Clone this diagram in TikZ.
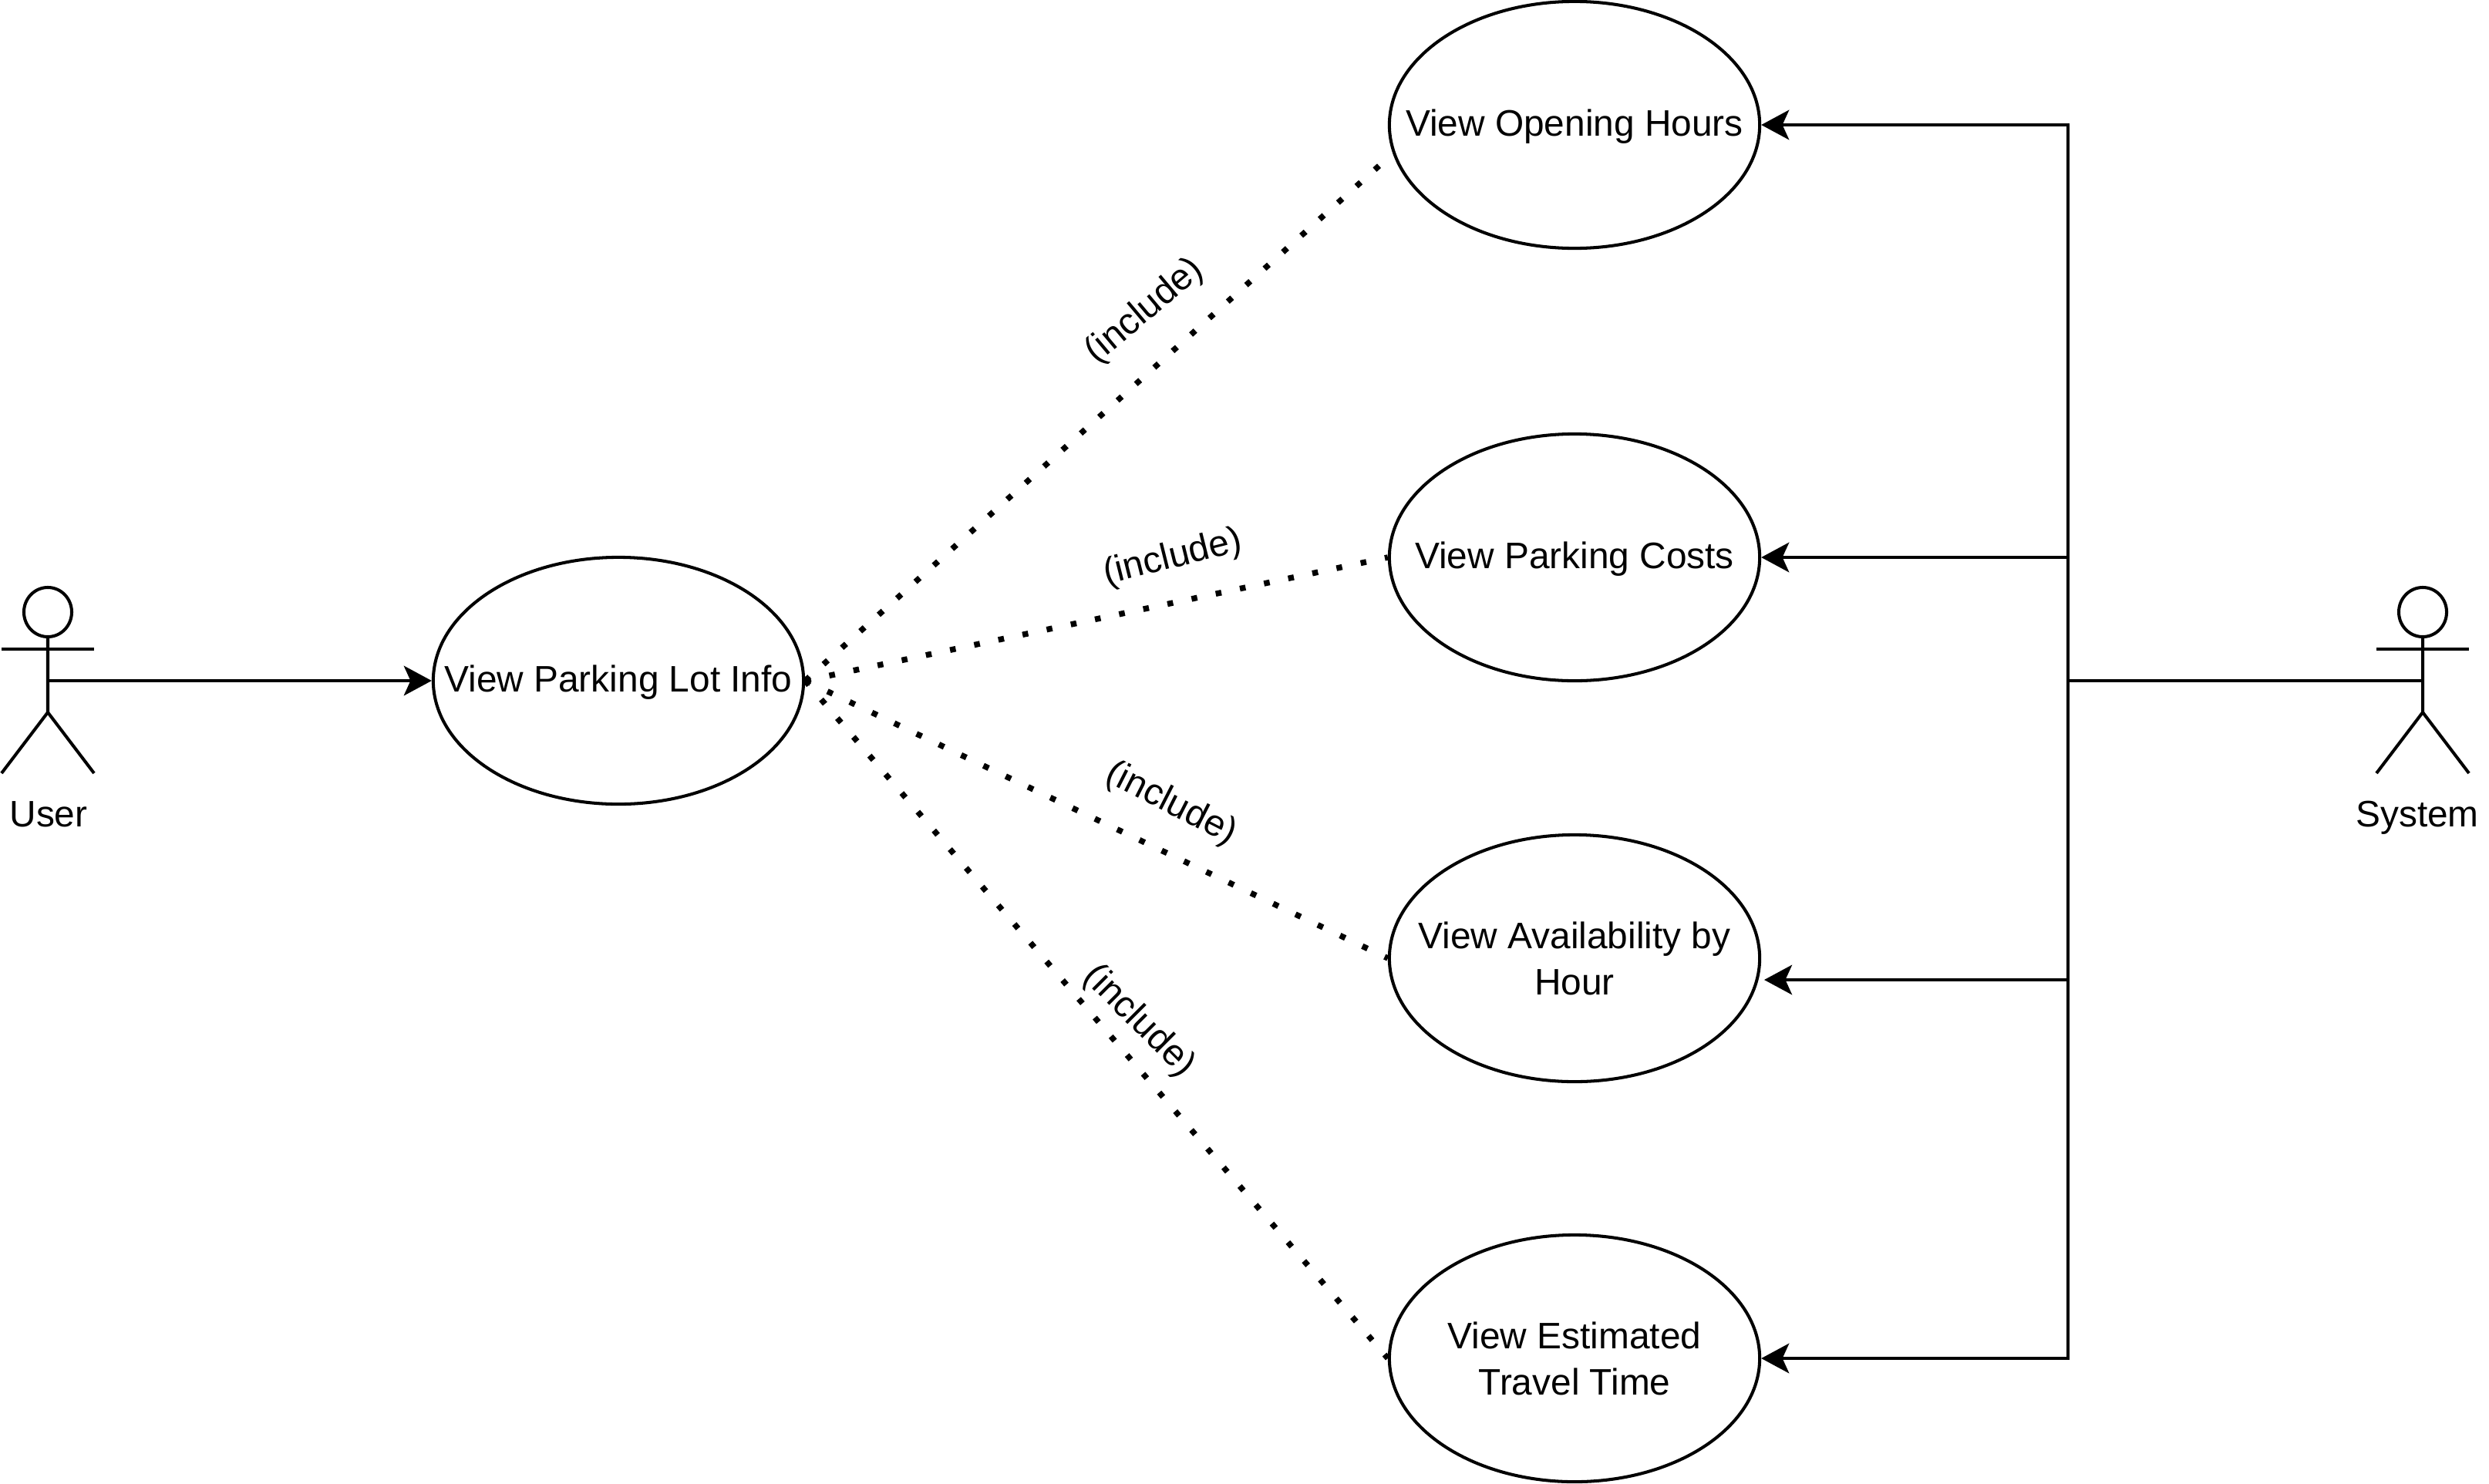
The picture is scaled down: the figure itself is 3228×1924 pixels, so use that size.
\documentclass[tikz,border=0pt]{standalone}
\usepackage{fontspec}
\setmainfont{Liberation Sans}
\usetikzlibrary{arrows.meta,shapes.geometric}
\tikzset{
  usecase/.style={ellipse, draw, line width=1.15pt, minimum width=4.8cm, minimum height=3.2cm, inner xsep=-1.6cm, inner ysep=0pt, align=center},
  oneline/.style={text height=0.38cm, text depth=0.1cm},
  actorhead/.style={ellipse, draw, line width=1.15pt, minimum width=0.62cm, minimum height=0.64cm, inner sep=0pt},
  limb/.style={line width=1.15pt},
  assoc/.style={-{Stealth[length=0.36cm,width=0.385cm,inset=0.086cm]}, line width=1.2pt},
  incl/.style={line width=0.075cm, dash pattern=on 0.075cm off 0.245cm},
  tag/.style={inner sep=0pt}
}
\begin{document}
\begin{tikzpicture}[x=0.01cm, y=-0.01cm, font=\fontsize{13.6pt}{17pt}\selectfont]
\useasboundingbox (0,0) rectangle (3228,1924);
% use cases
\node[usecase, oneline] (Info) at (802,883) {View Parking Lot Info};
\node[usecase, oneline] (Hours) at (2042,162) {View Opening Hours};
\node[usecase, oneline] (Costs) at (2042,723) {View Parking Costs};
\node[usecase] (Avail) at (2042,1243) {View Availability by\\Hour};
\node[usecase] (Travel) at (2042,1762) {View Estimated\\Travel Time};
% actors
\node[actorhead] (UserHead) at (62,794) {};
\coordinate (UserMid) at (62,883);
\draw[limb] (UserHead.south) -- (62,924) -- (2,1003);
\draw[limb] (62,924) -- (122,1003);
\draw[limb] (2,842) -- (122,842);
\node[tag] (UserName) at (63,1056) {User};
\node[actorhead] (SystemHead) at (3142,794) {};
\coordinate (SystemMid) at (3142,883);
\draw[limb] (SystemHead.south) -- (3142,924) -- (3082,1003);
\draw[limb] (3142,924) -- (3202,1003);
\draw[limb] (3082,842) -- (3202,842);
\node[tag] (SystemName) at (3135,1061) {System};
% connectors
\draw[assoc] (UserMid) -- (Info.west);
\coordinate (Bus) at (2682,883);
\coordinate (AvailEnd) at (2288,1271);
\draw[limb] (SystemMid) -- (Bus);
\draw[assoc] (Bus) |- (Hours.east);
\draw[assoc] (Bus) |- (Costs.east);
\draw[assoc] (Bus) |- (AvailEnd);
\draw[assoc] (Bus) |- (Travel.east);
% includes
\coordinate (HoursEnd) at (1802,203);
\draw[incl] (Info.east) -- (HoursEnd);
\draw[incl] (Info.east) -- (Costs.west);
\draw[incl] (Info.east) -- (Avail.west);
\draw[incl] (Info.east) -- (Travel.west);
\node[tag, rotate=40] (InclHours) at (1485,404) {(include)};
\node[tag, rotate=14] (InclCosts) at (1521,724) {(include)};
\node[tag, rotate=-27] (InclAvail) at (1519,1043) {(include)};
\node[tag, rotate=-45] (InclTravel) at (1477,1325) {(include)};
\end{tikzpicture}
\end{document}
